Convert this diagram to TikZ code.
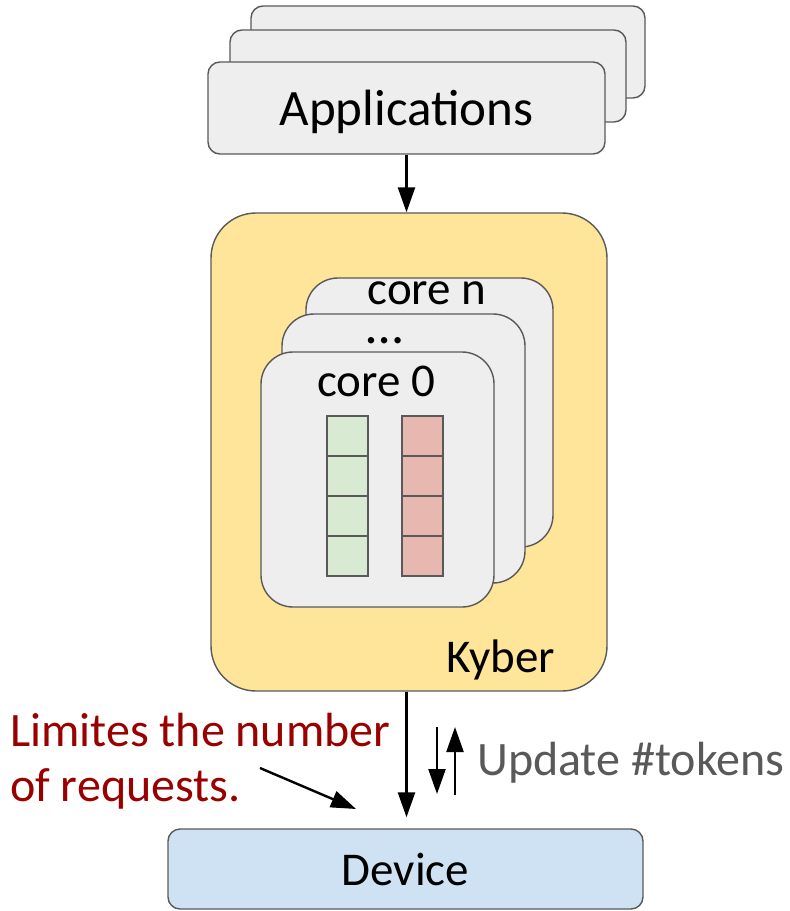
\documentclass[tikz,border=0pt]{standalone}
\usepackage{fontspec}
\setmainfont{Carlito}
\usepackage{tikz}
\usetikzlibrary{arrows.meta, positioning, calc}
\definecolor{boxgray}{HTML}{EEEEEE}
\definecolor{linegray}{HTML}{595959}
\definecolor{kyberyellow}{HTML}{FFE599}
\definecolor{qgreen}{HTML}{D9EAD3}
\definecolor{qred}{HTML}{E6B8AF}
\definecolor{devblue}{HTML}{CFE2F3}
\definecolor{darkred1}{HTML}{990000}

\begin{document}
\begin{tikzpicture}[x=1pt, y=-1pt,
  card/.style={draw=linegray, fill=#1, line width=1.4pt, rounded corners=12pt, inner sep=0pt},
  card/.default=boxgray,
  corebox/.style={draw=linegray, fill=boxgray, line width=1.4pt, rounded corners=32pt, inner sep=0pt},
  cell/.style={draw=linegray, fill=#1, line width=1.3pt, minimum width=41pt, minimum height=40pt, inner sep=0pt},
  txt/.style={font=\fontsize{47}{56}\selectfont, inner sep=0pt},
  arr/.style={-{Triangle[length=25pt, width=17pt]}, line width=2.4pt},
]
  \useasboundingbox (0,0) rectangle (790,911);

  % applications
  \node[card, minimum width=394pt, minimum height=92pt] (app2) at (448,52) {};
  \node[card, minimum width=396pt, minimum height=92pt] (app1) at (428,76) {};
  \node[card, minimum width=397pt, minimum height=92pt, text depth=0pt, font=\fontsize{51}{60}\selectfont] (app) at (406.5,108) {Applications};

  % kyber with its cores
  \node[card=kyberyellow, rounded corners=45pt, minimum width=396pt, minimum height=478pt] (kyber) at (409,452) {};
  \node[txt] (kyberlbl) at (501,660) {Kyber};
  \node[corebox, minimum width=247pt, minimum height=269pt] (coren) at (429.5,412.5) {};
  \node[txt] (corenlbl) at (427,293) {core n};
  \node[corebox, minimum width=243pt, minimum height=269pt] (coredots) at (403.5,448.5) {};
  \node[txt, font=\fontsize{53}{60}\selectfont] (dotslbl) at (385,341) {…};
  \node[corebox, minimum width=233pt, minimum height=255pt] (core0) at (377.5,479.5) {};
  \node[txt] (core0lbl) at (376,381) {core 0};
  \foreach \i in {0,...,3} {
    \node[cell=qgreen] (g\i) at (347.5,436+40*\i) {};
    \node[cell=qred] (r\i) at (422.5,436+40*\i) {};
  }

  % device
  \node[card=devblue, minimum width=475pt, minimum height=80pt, font=\fontsize{47}{56}\selectfont] (device) at (405.5,869) {Device};

  \draw[arr] (app.south) -- (app.south |- kyber.north);
  \draw[arr, shorten >=11pt] (app.south |- kyber.south) -- (app.south |- device.north);

  % token updates
  \coordinate (tka) at (437,727);
  \coordinate (tkb) at (437,794);
  \coordinate (tkc) at (455,795);
  \coordinate (tkd) at (455,727);
  \draw[arr] (tka) -- (tkb);
  \draw[arr] (tkc) -- (tkd);
  \node[txt, anchor=west, text=linegray, font=\fontsize{48}{56}\selectfont] (update) at (477,763) {Update \#tokens};

  \node[txt, anchor=west, align=left, text=darkred1, font=\fontsize{48}{55}\selectfont] (limit) at (10,761) {Limites the number\\of requests.};
  \coordinate (lima) at (260,768);
  \coordinate (limb) at (356,809);
  \draw[arr] (lima) -- (limb);
\end{tikzpicture}
\end{document}
